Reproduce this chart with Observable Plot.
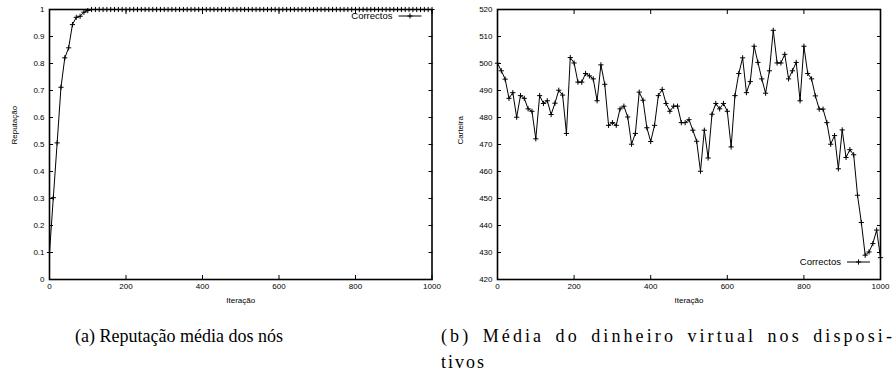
<!DOCTYPE html>
<html>
<head>
<meta charset="utf-8">
<script src="https://cdn.jsdelivr.net/npm/d3@7"></script>
<script src="https://cdn.jsdelivr.net/npm/@observablehq/plot@0.6"></script>
<style>
  html, body { margin: 0; padding: 0; background: #fff; }
  #wrap { position: relative; width: 895px; height: 372px; background: #fff; overflow: hidden; }
  .panel { position: absolute; top: 0; }
  .cap { position: absolute; font-family: "Liberation Serif", "DejaVu Serif", serif; font-size: 18px; line-height: 20px; color: #000; white-space: nowrap; }
  .sp { letter-spacing: 2px; }
  .sp1 { letter-spacing: 3.1px; }
  .just { text-align: justify; text-align-last: justify; white-space: normal; }
</style>
</head>
<body>
<div id="wrap">
  <div id="pa" class="panel" style="left:0px"></div>
  <div id="pb" class="panel" style="left:448px"></div>
  <div class="cap" style="left:75px; top:326px;">(a) Reputação média dos nós</div>
  <div class="cap just sp1" style="left:441px; top:326px; width:454px;">(b) Média do dinheiro virtual nos disposi-</div>
  <div class="cap sp" style="left:441px; top:352px;">tivos</div>
</div>
<script>
// ---- data ----
const iterations = d3.range(0, 1001, 10); // 0, 10, ..., 1000

const reputacao = [
  0.1, 0.303, 0.506, 0.712, 0.821, 0.858, 0.944, 0.971, 0.975, 0.99,
  0.996, 1, 1, 1, 1, 1, 1, 1, 1, 1,
  1, 1, 1, 1, 1, 1, 1, 1, 1, 1,
  1, 1, 1, 1, 1, 1, 1, 1, 1, 1,
  1, 1, 1, 1, 1, 1, 1, 1, 1, 1,
  1, 1, 1, 1, 1, 1, 1, 1, 1, 1,
  1, 1, 1, 1, 1, 1, 1, 1, 1, 1,
  1, 1, 1, 1, 1, 1, 1, 1, 1, 1,
  1, 1, 1, 1, 1, 1, 1, 1, 1, 1,
  1, 1, 1, 1, 1, 1, 1, 1, 1, 1,
  1
];

const carteira = [
  500.1, 497.3, 494.2, 487.1, 489.2, 480.1, 488.1, 487.1, 483.2, 482.3,
  472.1, 488.1, 485.2, 486.2, 481.1, 485.3, 490.1, 488.3, 474.1, 502.2,
  500.2, 493.1, 493.1, 496.3, 495.4, 494.3, 486.2, 499.5, 492.3, 477.1,
  478.1, 477.1, 483.2, 484.2, 480.2, 470.1, 474.1, 489.4, 486.4, 476.2,
  471.1, 477.1, 488.1, 490.4, 485.2, 482.3, 484.2, 484.2, 478.1, 478.1,
  479.2, 475.3, 471.2, 460.1, 475.3, 465.0, 481.2, 485.2, 483.2, 485.2,
  482.3, 469.1, 488.1, 496.3, 502.1, 489.2, 493.3, 506.4, 500.4, 494.3,
  489.0, 497.3, 512.3, 500.2, 500.2, 503.4, 494.3, 497.3, 500.4, 486.2,
  506.4, 496.3, 494.3, 488.0, 483.1, 483.1, 478.1, 470.1, 473.3, 461.0,
  475.4, 465.2, 468.1, 466.2, 451.2, 441.1, 429.0, 430.2, 433.3, 438.3,
  428.1
];

const xTicks = [0, 200, 400, 600, 800, 1000];
const yTicksA = [0, 0.1, 0.2, 0.3, 0.4, 0.5, 0.6, 0.7, 0.8, 0.9, 1];
const yTicksB = [420, 430, 440, 450, 460, 470, 480, 490, 500, 510, 520];
const seriesName = "Correctos";
const xLabel = "Iteração";
const yLabelA = "Reputação";
const yLabelB = "Carteira";

const MARK_R = 1.8;

// ---- chart builder ----
function panel({values, yDomain, yTicks, yLabel, yLabelDx, legendTop, marginRight}) {
  const data = iterations.map((it, i) => ({it, v: values[i]}));
  const W = 447, H = 305;
  const mL = 49, mT = 9, mB = 26, mR = marginRight;
  const svg = Plot.plot({
    width: W, height: H,
    marginLeft: mL, marginRight: mR, marginTop: mT, marginBottom: mB,
    style: {fontFamily: "'Liberation Sans', Arial, sans-serif", fontSize: "8px", color: "#000", background: "#fff"},
    x: {domain: [0, 1000]},
    y: {domain: yDomain},
    marks: [
      Plot.axisX(xTicks, {anchor: "bottom", tickSize: -4, tickPadding: 8, label: null, tickFormat: d => String(d)}),
      Plot.axisX(xTicks, {anchor: "top", tickSize: -4, tickFormat: () => "", label: null}),
      Plot.axisY(yTicks, {anchor: "left", tickSize: -4, tickPadding: 9, label: null, tickFormat: d => String(+d.toFixed(1))}),
      Plot.axisY(yTicks, {anchor: "right", tickSize: -4, tickFormat: () => "", label: null}),
      Plot.line(data, {x: "it", y: "v", stroke: "#000", strokeWidth: 1}),
      Plot.dot(data, {x: "it", y: "v", symbol: "plus", r: MARK_R, stroke: "#000", strokeWidth: 1}),
      Plot.frame({stroke: "#000", strokeWidth: 1.6}),
      Plot.text([yLabel], {frameAnchor: "left", dx: yLabelDx, rotate: -90, fontSize: 8}),
      Plot.text([xLabel], {frameAnchor: "bottom", dy: 21, lineAnchor: "middle", fontSize: 8})
    ]
  });
  // legend (key) inside the frame
  const fr = W - mR;
  const ly = legendTop ? mT + 7 : H - mB - 17;
  const g = d3.select(svg).append("g").attr("class", "key");
  g.append("text")
    .attr("x", fr - 39).attr("y", ly).attr("dy", "0.35em")
    .attr("text-anchor", "end")
    .attr("font-family", "'Liberation Sans', Arial, sans-serif")
    .attr("font-size", 9.5).attr("fill", "#000")
    .text(seriesName);
  g.append("line")
    .attr("x1", fr - 33).attr("x2", fr - 10).attr("y1", ly).attr("y2", ly)
    .attr("stroke", "#000").attr("stroke-width", 1);
  g.append("path")
    .attr("d", d3.symbol(d3.symbolPlus, MARK_R * MARK_R * Math.PI)())
    .attr("transform", `translate(${fr - 21.5},${ly})`)
    .attr("fill", "none").attr("stroke", "#000").attr("stroke-width", 1);
  return svg;
}

document.getElementById("pa").appendChild(panel({
  values: reputacao, yDomain: [0, 1], yTicks: yTicksA, yLabel: yLabelA, yLabelDx: -35, legendTop: true, marginRight: 15.5
}));
document.getElementById("pb").appendChild(panel({
  values: carteira, yDomain: [420, 520], yTicks: yTicksB, yLabel: yLabelB, yLabelDx: -37, legendTop: false, marginRight: 15
}));
</script>
</body>
</html>
